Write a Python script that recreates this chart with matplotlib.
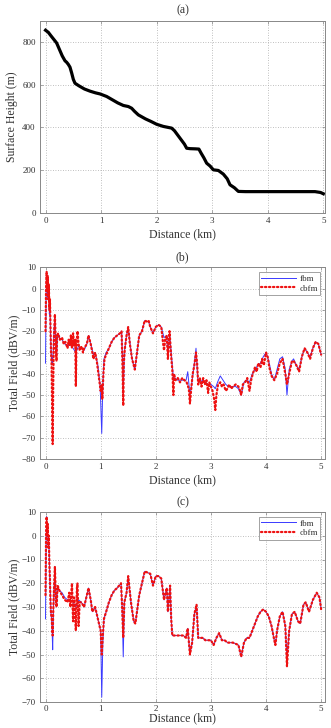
import matplotlib
matplotlib.use("Agg")
import matplotlib.pyplot as plt

plt.rcParams['font.family'] = ['Liberation Serif', 'DejaVu Serif']

# ---------------- data ----------------
# (a) terrain profile
terrain_x = [0.00, 0.05, 0.10, 0.17, 0.20, 0.25, 0.30, 0.35, 0.38, 0.41, 0.44, 0.47, 0.50, 0.53,
             0.60, 0.70, 0.80, 0.90, 0.98, 1.10, 1.20, 1.30, 1.40, 1.49, 1.55, 1.60, 1.67, 1.80,
             1.90, 2.00, 2.12, 2.27, 2.32, 2.42, 2.50, 2.54, 2.60, 2.70, 2.76, 2.80, 2.85, 2.90,
             2.96, 3.02, 3.11, 3.20, 3.27, 3.32, 3.40, 3.47, 3.60, 4.00, 4.50, 4.85, 4.95, 5.00]
terrain_h = [855, 845, 828, 805, 795, 765, 735, 712, 705, 695, 682, 655, 625, 607,
             595, 580, 570, 562, 557, 545, 530, 515, 503, 498, 490, 476, 459, 440,
             428, 415, 405, 397, 385, 350, 322, 303, 301, 300, 299, 280, 258, 233,
             220, 202, 199, 182, 160, 132, 118, 101, 100, 100, 100, 100, 96, 90]

# (b) fbm
b_fbm_x = [0.00, 0.01, 0.02, 0.03, 0.04, 0.05, 0.06, 0.07, 0.08, 0.09, 0.10, 0.11, 0.12, 0.13,
           0.14, 0.15, 0.17, 0.19, 0.20, 0.22, 0.25, 0.30, 0.35, 0.40, 0.45, 0.50, 0.55, 0.60,
           0.65, 0.70, 0.75, 0.78, 0.82, 0.87, 0.90, 0.95, 0.99, 1.02, 1.04, 1.06, 1.10, 1.15,
           1.20, 1.25, 1.30, 1.35, 1.38, 1.40, 1.41, 1.43, 1.47, 1.50, 1.53, 1.57, 1.62, 1.66,
           1.70, 1.75, 1.80, 1.84, 1.87, 1.90, 1.95, 2.00, 2.05, 2.10, 2.15, 2.20, 2.22, 2.25,
           2.28, 2.32, 2.35, 2.40, 2.45, 2.50, 2.55, 2.58, 2.62, 2.65, 2.70, 2.73, 2.76, 2.80,
           2.85, 2.90, 2.95, 3.00, 3.05, 3.08, 3.12, 3.17, 3.22, 3.27, 3.32, 3.40, 3.45, 3.50,
           3.55, 3.60, 3.65, 3.70, 3.75, 3.80, 3.85, 3.90, 3.95, 4.00, 4.05, 4.10, 4.15, 4.20,
           4.25, 4.30, 4.35, 4.38, 4.42, 4.47, 4.50, 4.55, 4.60, 4.65, 4.70, 4.75, 4.80, 4.85,
           4.90, 4.95, 5.00]
b_fbm_y = [-35, -5, 8, 2, -5, 3, -2, -12, -8, -20, -28, -33, -35, -32,
           -30, -22, -13, -30, -32, -21, -23, -24, -26, -27, -26, -28, -30, -27,
           -28, -29, -26, -22, -26, -31, -30, -36, -45, -68, -45, -33, -30, -28,
           -25, -23, -22, -21, -20, -35, -50, -30, -22, -18, -25, -33, -38, -30,
           -22, -20, -15, -15.5, -15.5, -18, -21, -18, -17, -18, -23, -22, -32, -21,
           -30, -42, -42, -43, -43, -43, -43, -39, -50, -45, -35, -28, -42, -44,
           -43, -44, -45, -45, -46, -47, -44, -41, -43, -45, -46, -46, -46, -47,
           -50, -44, -43, -44, -40, -38, -36, -35, -32, -30, -34, -40, -43, -38,
           -33, -32, -38, -50, -38, -34, -33, -36, -38, -32, -28, -30, -32, -28,
           -25, -26, -31]

# (b) cbfm
b_cbfm_x = [0.00, 0.01, 0.02, 0.03, 0.04, 0.05, 0.06, 0.07, 0.08, 0.09, 0.10, 0.11, 0.12, 0.13,
            0.14, 0.15, 0.17, 0.19, 0.20, 0.21, 0.23, 0.26, 0.30, 0.33, 0.36, 0.40, 0.42, 0.44,
            0.46, 0.48, 0.50, 0.52, 0.54, 0.55, 0.56, 0.58, 0.60, 0.62, 0.65, 0.68, 0.70, 0.75,
            0.78, 0.82, 0.85, 0.87, 0.90, 0.93, 0.96, 0.98, 1.00, 1.02, 1.03, 1.05, 1.07, 1.10,
            1.15, 1.20, 1.25, 1.30, 1.35, 1.38, 1.40, 1.41, 1.42, 1.44, 1.47, 1.50, 1.53, 1.57,
            1.62, 1.66, 1.70, 1.75, 1.80, 1.84, 1.87, 1.90, 1.95, 2.00, 2.05, 2.10, 2.13, 2.15,
            2.17, 2.20, 2.22, 2.25, 2.28, 2.30, 2.32, 2.33, 2.36, 2.40, 2.44, 2.48, 2.52, 2.56,
            2.60, 2.62, 2.64, 2.67, 2.70, 2.73, 2.75, 2.77, 2.80, 2.83, 2.86, 2.89, 2.92, 2.95,
            2.97, 3.00, 3.03, 3.06, 3.08, 3.10, 3.13, 3.17, 3.20, 3.23, 3.27, 3.30, 3.33, 3.37,
            3.40, 3.45, 3.50, 3.53, 3.55, 3.58, 3.62, 3.66, 3.70, 3.73, 3.76, 3.80, 3.83, 3.86,
            3.90, 3.93, 3.96, 4.00, 4.03, 4.06, 4.10, 4.15, 4.20, 4.25, 4.30, 4.35, 4.38, 4.42,
            4.47, 4.50, 4.55, 4.60, 4.65, 4.70, 4.75, 4.80, 4.85, 4.90, 4.95, 5.00]
b_cbfm_y = [-20, 0, 8, 0, 6, -5, 2, -10, -5, -18, -30, -35, -55, -73,
            -45, -25, -12, -30, -34, -22, -21, -24, -23, -26, -25, -28, -24, -27,
            -22, -28, -21, -27, -24, -46, -28, -20, -26, -29, -27, -30, -28, -26,
            -22, -26, -30, -33, -30, -34, -40, -44, -48, -45, -52, -40, -33, -31,
            -28, -25, -23, -22, -21, -20, -40, -55, -35, -28, -22, -18, -26, -33,
            -38, -30, -22, -20, -15, -15.5, -15, -18, -21, -18, -17, -18, -25, -29,
            -24, -22, -33, -20, -32, -38, -50, -40, -43, -42, -44, -42, -43, -44,
            -47, -54, -48, -40, -36, -30, -35, -45, -42, -46, -42, -45, -43, -49,
            -44, -46, -48, -52, -57, -50, -45, -44, -46, -45, -48, -47, -45, -47,
            -46, -45, -46, -48, -50, -45, -44, -42, -48, -43, -40, -37, -39, -35,
            -37, -33, -36, -30, -32, -37, -41, -43, -40, -35, -33, -40, -45, -40,
            -34, -34, -36, -39, -32, -28, -30, -33, -28, -25, -26, -31]

# (c) fbm
c_fbm_x = [0.00, 0.01, 0.02, 0.03, 0.04, 0.05, 0.06, 0.07, 0.08, 0.09, 0.10, 0.11, 0.12, 0.13,
           0.14, 0.15, 0.17, 0.19, 0.20, 0.22, 0.25, 0.30, 0.35, 0.40, 0.45, 0.50, 0.55, 0.60,
           0.65, 0.70, 0.75, 0.78, 0.82, 0.85, 0.90, 0.95, 1.00, 1.02, 1.04, 1.06, 1.10, 1.15,
           1.20, 1.25, 1.30, 1.37, 1.39, 1.41, 1.43, 1.47, 1.50, 1.55, 1.60, 1.63, 1.67, 1.70,
           1.75, 1.80, 1.85, 1.90, 1.95, 2.00, 2.05, 2.10, 2.15, 2.18, 2.20, 2.22, 2.26, 2.28,
           2.30, 2.35, 2.40, 2.45, 2.50, 2.55, 2.58, 2.62, 2.66, 2.70, 2.74, 2.77, 2.80, 2.85,
           2.90, 2.95, 3.00, 3.05, 3.10, 3.15, 3.20, 3.25, 3.30, 3.40, 3.50, 3.55, 3.60, 3.65,
           3.70, 3.75, 3.80, 3.85, 3.90, 3.95, 4.00, 4.05, 4.10, 4.15, 4.17, 4.20, 4.25, 4.30,
           4.35, 4.38, 4.42, 4.47, 4.52, 4.58, 4.62, 4.68, 4.72, 4.78, 4.85, 4.92, 4.97, 5.00]
c_fbm_y = [-35, -5, 8, 2, 0, -5, -3, -10, -20, -25, -33, -35, -40, -48,
           -35, -25, -13, -28, -30, -21, -23, -24, -26, -27, -27, -28, -30, -27,
           -28, -30, -25, -22, -27, -32, -30, -35, -40, -68, -45, -35, -32, -28,
           -25, -23, -22, -20, -30, -51, -28, -24, -17, -28, -36, -37, -30, -25,
           -20, -15, -15.5, -16, -21, -17, -17, -18, -27, -24, -22, -32, -21, -35,
           -42, -42, -42, -42, -42, -43, -39, -50, -45, -33, -29, -43, -43, -43,
           -44, -44, -44, -46, -43, -41, -44, -44, -45, -45, -46, -51, -45, -43,
           -43, -40, -37, -34, -32, -31, -32, -34, -38, -44, -46, -40, -34, -32,
           -38, -52, -40, -33, -32, -36, -37, -29, -28, -32, -27, -24, -26, -31]

# (c) cbfm
c_cbfm_x = [0.00, 0.01, 0.02, 0.03, 0.04, 0.05, 0.06, 0.07, 0.08, 0.09, 0.10, 0.11, 0.12, 0.13,
            0.14, 0.15, 0.17, 0.19, 0.20, 0.22, 0.25, 0.30, 0.35, 0.40, 0.43, 0.45, 0.48, 0.50,
            0.52, 0.55, 0.57, 0.58, 0.60, 0.62, 0.65, 0.70, 0.75, 0.78, 0.82, 0.85, 0.90, 0.95,
            1.00, 1.02, 1.04, 1.06, 1.10, 1.15, 1.20, 1.25, 1.30, 1.37, 1.39, 1.41, 1.43, 1.47,
            1.50, 1.55, 1.60, 1.63, 1.67, 1.70, 1.75, 1.80, 1.85, 1.90, 1.95, 2.00, 2.05, 2.10,
            2.15, 2.18, 2.20, 2.22, 2.26, 2.28, 2.30, 2.35, 2.40, 2.45, 2.50, 2.55, 2.58, 2.62,
            2.66, 2.70, 2.74, 2.77, 2.80, 2.85, 2.90, 2.95, 3.00, 3.05, 3.10, 3.15, 3.20, 3.25,
            3.30, 3.40, 3.50, 3.55, 3.60, 3.65, 3.70, 3.75, 3.80, 3.85, 3.90, 3.95, 4.00, 4.05,
            4.10, 4.15, 4.17, 4.20, 4.25, 4.30, 4.35, 4.38, 4.42, 4.47, 4.52, 4.58, 4.62, 4.68,
            4.72, 4.78, 4.85, 4.92, 4.97, 5.00]
c_cbfm_y = [-25, 0, 8, 0, 5, -5, 0, -12, -18, -28, -33, -34, -38, -42,
            -32, -25, -13, -28, -30, -21, -23, -25, -27, -28, -24, -30, -20, -36,
            -26, -40, -22, -20, -38, -28, -28, -30, -25, -22, -27, -32, -30, -35,
            -40, -50, -42, -35, -32, -28, -25, -23, -22, -20, -30, -43, -28, -24,
            -17, -28, -36, -37, -30, -25, -20, -15, -15.5, -16, -21, -17, -17, -18,
            -27, -24, -22, -32, -21, -35, -42, -42, -42, -42, -42, -43, -39, -50,
            -45, -33, -29, -43, -43, -43, -44, -44, -44, -46, -43, -41, -44, -44,
            -45, -45, -46, -51, -45, -43, -43, -40, -37, -34, -32, -31, -32, -34,
            -38, -44, -46, -40, -34, -32, -38, -55, -40, -33, -32, -36, -37, -29,
            -28, -32, -27, -24, -26, -31]

x_ticks = [0, 1, 2, 3, 4, 5]
a_yticks = [0, 200, 400, 600, 800]
b_yticks = [10, 0, -10, -20, -30, -40, -50, -60, -70, -80]
c_yticks = [10, 0, -10, -20, -30, -40, -50, -60, -70]
titles = ['(a)', '(b)', '(c)']
series_names = ['fbm', 'cbfm']

# ---------------- figure ----------------
W, H = 331, 728
fig = plt.figure(figsize=(W / 100, H / 100), dpi=100)

def box(top_px, bot_px, left_px=40, right_px=325):
    return [left_px / W, 1 - bot_px / H, (right_px - left_px) / W, (bot_px - top_px) / H]

tick_fs = 6.5
label_fs = 8.5
spine_c = '#888888'
txt_c = '#333333'

def style(ax, tickpad=3, labelpad=2):
    for s in ax.spines.values():
        s.set_color(spine_c)
        s.set_linewidth(0.7)
    ax.tick_params(direction='in', length=2.5, width=0.5, colors=spine_c,
                   labelcolor=txt_c, labelsize=tick_fs, pad=3, top=True, right=True)
    ax.tick_params(axis='x', pad=tickpad)
    ax.grid(True, linestyle=(0, (1, 2)), color='#aaaaaa', linewidth=0.6)
    ax.set_axisbelow(True)
    ax.set_xticks(x_ticks)
    ax.set_xlabel('Distance (km)', fontsize=label_fs, color=txt_c, labelpad=labelpad)

ax1 = fig.add_axes(box(20.6, 213))
ax1.plot(terrain_x, terrain_h, color='black', linewidth=2.3)
ax1.set_xlim(-0.1, 5.03)
ax1.set_ylim(0, 900)
ax1.set_yticks(a_yticks)
style(ax1)
ax1.set_ylabel('Surface Height (m)', fontsize=label_fs, color=txt_c, labelpad=3)
ax1.set_title(titles[0], fontsize=label_fs, color=txt_c, pad=5)

def field_panel(rect, fx, fy, cx, cy, ylim, yticks, title, tickpad=3, labelpad=2):
    ax = fig.add_axes(rect)
    ax.plot(fx, fy, color='#3a3aff', linewidth=0.7, label=series_names[0])
    ax.plot(cx, cy, color='#ee1111', linewidth=1.6, linestyle=(0, (0.6, 1.2)),
            dash_capstyle='round', label=series_names[1])
    ax.set_xlim(-0.1, 5.07)
    ax.set_ylim(*ylim)
    ax.set_yticks(yticks)
    style(ax, tickpad, labelpad)
    ax.set_ylabel('Total Field (dBV/m)', fontsize=label_fs, color=txt_c, labelpad=1)
    ax.set_title(title, fontsize=label_fs, color=txt_c, pad=5)
    leg = ax.legend(loc='upper right', fontsize=6.5, frameon=True, fancybox=False,
                    handlelength=3.8, borderaxespad=0.5, borderpad=0.3,
                    labelspacing=0.15, handletextpad=0.4, markerfirst=True)
    leg.get_frame().set_edgecolor('#777777')
    leg.get_frame().set_linewidth(0.6)
    for t in leg.get_texts():
        t.set_color(txt_c)
    return ax

field_panel(box(267.3, 459), b_fbm_x, b_fbm_y, b_cbfm_x, b_cbfm_y, (-80, 10), b_yticks, titles[1])
field_panel(box(512, 702), c_fbm_x, c_fbm_y, c_cbfm_x, c_cbfm_y, (-70, 10), c_yticks, titles[2],
            tickpad=2, labelpad=0)

fig.savefig('out.png', dpi=100)
